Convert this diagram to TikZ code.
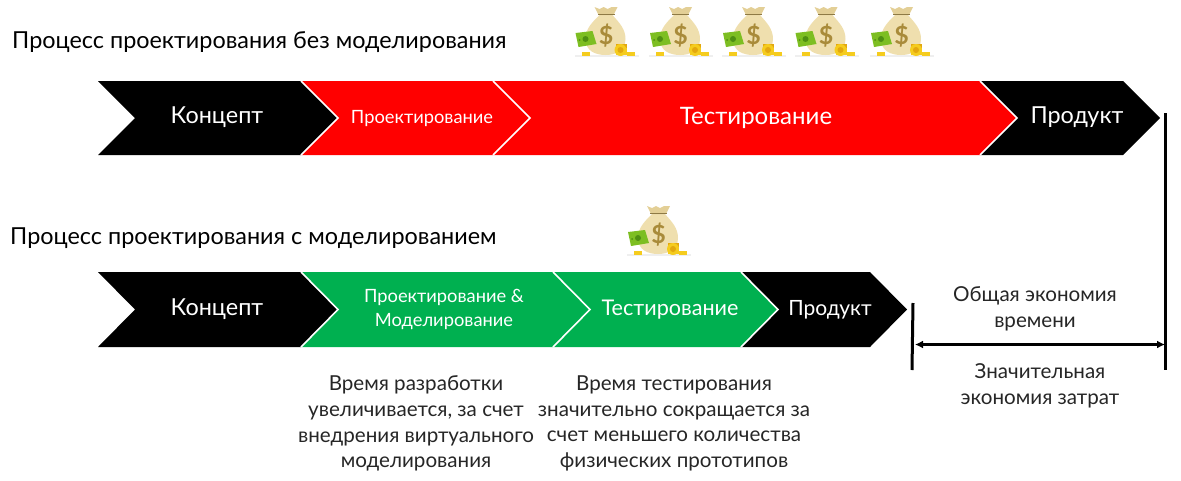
\documentclass[tikz,border=0pt]{standalone}
\usepackage{fontspec}
\usetikzlibrary{arrows.meta}
\setmainfont{Lato}
\definecolor{bagc}{HTML}{EFDFAE}
\definecolor{bagd}{HTML}{E3CF96}
\definecolor{dollar}{HTML}{A98B3A}
\definecolor{neck}{HTML}{8E7A45}
\definecolor{notec}{HTML}{7DBE22}
\definecolor{notedk}{HTML}{4F8F12}
\definecolor{coinc}{HTML}{F5CC1E}
\definecolor{coind}{HTML}{E3A80F}
\definecolor{shad}{HTML}{EFEFEF}
\definecolor{gr}{HTML}{00B050}
\tikzset{
 x=1pt,y=-1pt,
 chev/.style={draw=white,line width=1.6pt,line join=miter},
 big/.style={text=white,font=\fontsize{23.4}{28}\selectfont,inner sep=0},
 mid/.style={text=white,font=\fontsize{18.3}{24}\selectfont,align=center,inner sep=0},
 head/.style={text=black,anchor=west,font=\fontsize{23.4}{28}\selectfont,inner sep=0},
 note/.style={text=black!85,align=center,font=\fontsize{20.6}{25.8}\selectfont,inner sep=0},
 bar/.style={line width=3pt,black},
 span/.style={line width=2.6pt,black,{Latex[length=8pt,width=8pt]}-{Latex[length=8pt,width=8pt]}},
 bag/.pic={
  \fill[shad] (-31,20) rectangle (33,22);
  \fill[bagc] (-6,-20) .. controls (-14,-12) and (-20,-6) .. (-20,4) .. controls (-20,16) and (-10,20) .. (0,20) .. controls (10,20) and (20,16) .. (20,4) .. controls (20,-6) and (14,-12) .. (7,-20) -- cycle;
  \fill[bagd] (-11,-28) -- (-6,-26) -- (-2,-28) -- (2,-26) -- (6,-28) -- (12,-28) -- (8,-20) -- (-7,-20) -- cycle;
  \fill[neck] (-8,-21) rectangle (9,-19.6);
  \node[text=dollar,inner sep=0,font=\fontsize{25}{25}\selectfont\bfseries] at (0.5,1) {\$};
  \fill[notec] (-30,-2) -- (-13,-4) -- (-9,9) -- (-27,12) -- cycle;
  \fill[notedk] (-20,4) circle (3);
  \fill[notedk] (-26,5) circle (1);
  \fill[coind] (10,9) rectangle (21,20);
  \fill[coinc] (10,13) rectangle (21,20);
  \fill[coinc] (15,15) circle (6);
  \fill[coind] (15,15) circle (3);
  \fill[coinc] (21,17) rectangle (29,20.5);
  \fill[coinc] (-24,17) rectangle (-16,20.5);
 }
}
\begin{document}
\begin{tikzpicture}
\useasboundingbox (0,0) rectangle (1181,480);
\fill[black] (98,81) -- (301,81) -- (338,118) -- (301,155) -- (98,155) -- (135,118) -- cycle;
\fill[red] (301,81) -- (493,81) -- (530,118) -- (493,155) -- (301,155) -- (338,118) -- cycle;
\fill[red] (493,81) -- (980,81) -- (1017,118) -- (980,155) -- (493,155) -- (530,118) -- cycle;
\fill[black] (980,81) -- (1123,81) -- (1160,118) -- (1123,155) -- (980,155) -- (1017,118) -- cycle;
\draw[chev] (301,81) -- (338,118) -- (301,155);
\draw[chev] (493,81) -- (530,118) -- (493,155);
\draw[chev] (980,81) -- (1017,118) -- (980,155);
\fill[black] (98,272) -- (301,272) -- (338,309.5) -- (301,347) -- (98,347) -- (135,309.5) -- cycle;
\fill[gr] (301,272) -- (553,272) -- (590,309.5) -- (553,347) -- (301,347) -- (338,309.5) -- cycle;
\fill[gr] (553,272) -- (741,272) -- (778,309.5) -- (741,347) -- (553,347) -- (590,309.5) -- cycle;
\fill[black] (741,272) -- (870,272) -- (907,309.5) -- (870,347) -- (741,347) -- (778,309.5) -- cycle;
\draw[chev] (301,272) -- (338,309.5) -- (301,347);
\draw[chev] (553,272) -- (590,309.5) -- (553,347);
\draw[chev] (741,272) -- (778,309.5) -- (741,347);
\node[head] (h1) at (12,42.5) {Процесс проектирования без моделирования};
\node[head] (h2) at (10,238.5) {Процесс проектирования с моделированием};
\node[big] (k1) at (217,117.5) {Концепт};
\node[mid] (p1) at (422,118.5) {Проектирование};
\node[big,font=\fontsize{24}{28}\selectfont] (t1) at (756,117.5) {Тестирование};
\node[big] (r1) at (1077,117.5) {Продукт};
\node[big] (k2) at (217,309.5) {Концепт};
\node[mid] (p2) at (444,309) {Проектирование \&\\Моделирование};
\node[mid,font=\fontsize{21.6}{26}\selectfont] (t2) at (670,309.5) {Тестирование};
\node[mid,font=\fontsize{21}{26}\selectfont] (r2) at (830,309.5) {Продукт};
\node[note] (n1) at (416,423.5) {Время разработки\\увеличивается, за счет\\внедрения виртуального\\моделирования};
\node[note] (n2) at (674,423.5) {Время тестирования\\значительно сокращается за\\счет меньшего количества\\физических прототипов};
\node[note] (n3) at (1035,308.5) {Общая экономия\\времени};
\node[note] (n4) at (1040,386) {Значительная\\экономия затрат};
\coordinate (a1) at (913,303); \coordinate (a2) at (912,370);
\coordinate (b1) at (1165.5,113); \coordinate (b2) at (1165.5,370);
\draw[bar] (a1) -- (a2);
\draw[bar] (b1) -- (b2);
\coordinate (s1) at (915,344.5); \coordinate (s2) at (1165,344.5);
\draw[span] (s1) -- (s2);
\pic at (605.5,35) {bag};
\pic at (680,35) {bag};
\pic at (753,35) {bag};
\pic at (825.5,35) {bag};
\pic at (901,35) {bag};
\pic at (658,234) {bag};
\end{tikzpicture}
\end{document}
